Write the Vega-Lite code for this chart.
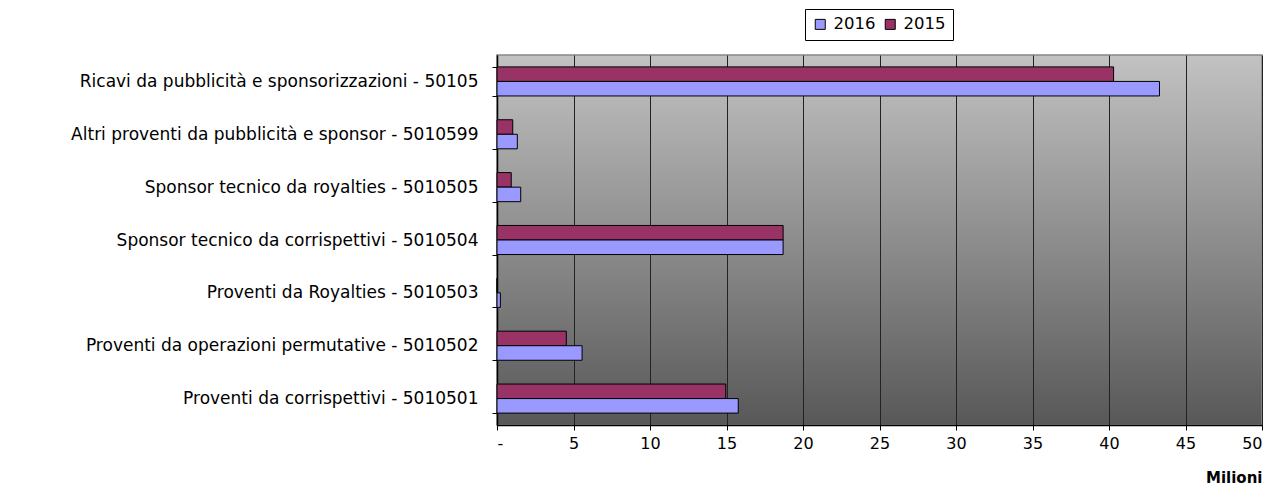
{
  "$schema": "https://vega.github.io/schema/vega-lite/v6.json",
  "width": 765,
  "height": 370,
  "autosize": {"type": "none"},
  "padding": {"left": 497, "top": 55, "right": 23, "bottom": 63},
  "background": "white",
  "config": {
    "font": "DejaVu Sans",
    "view": {
      "stroke": "#888888",
      "strokeWidth": 1.5,
      "fill": {
        "gradient": "linear",
        "x1": 0, "y1": 0, "x2": 0, "y2": 1,
        "stops": [
          {"offset": 0, "color": "#c2c2c2"},
          {"offset": 1, "color": "#585858"}
        ]
      }
    },
    "axis": {
      "labelFont": "DejaVu Sans",
      "labelColor": "#000000",
      "domainColor": "#000000",
      "tickColor": "#000000"
    }
  },
  "data": {
    "values": [
      {"voce": "Ricavi da pubblicità e sponsorizzazioni - 50105", "anno": "2015", "valore": 40.3},
      {"voce": "Ricavi da pubblicità e sponsorizzazioni - 50105", "anno": "2016", "valore": 43.3},
      {"voce": "Altri proventi da pubblicità e sponsor - 5010599", "anno": "2015", "valore": 1.03},
      {"voce": "Altri proventi da pubblicità e sponsor - 5010599", "anno": "2016", "valore": 1.33},
      {"voce": "Sponsor tecnico da royalties - 5010505", "anno": "2015", "valore": 0.93},
      {"voce": "Sponsor tecnico da royalties - 5010505", "anno": "2016", "valore": 1.55},
      {"voce": "Sponsor tecnico da corrispettivi - 5010504", "anno": "2015", "valore": 18.7},
      {"voce": "Sponsor tecnico da corrispettivi - 5010504", "anno": "2016", "valore": 18.7},
      {"voce": "Proventi da Royalties - 5010503", "anno": "2015", "valore": 0},
      {"voce": "Proventi da Royalties - 5010503", "anno": "2016", "valore": 0.22},
      {"voce": "Proventi da operazioni permutative - 5010502", "anno": "2015", "valore": 4.53},
      {"voce": "Proventi da operazioni permutative - 5010502", "anno": "2016", "valore": 5.56},
      {"voce": "Proventi da corrispettivi - 5010501", "anno": "2015", "valore": 14.95},
      {"voce": "Proventi da corrispettivi - 5010501", "anno": "2016", "valore": 15.77}
    ]
  },
  "mark": {"type": "bar", "stroke": "#000000", "strokeWidth": 1},
  "encoding": {
    "y": {
      "field": "voce",
      "type": "nominal",
      "sort": null,
      "scale": {"paddingInner": 0.45, "paddingOuter": 0.225},
      "axis": {
        "title": null,
        "tickBand": "extent",
        "tickSize": 5,
        "labelPadding": 14,
        "labelFontSize": 17,
        "labelLimit": 500,
        "domainWidth": 1.5
      }
    },
    "yOffset": {
      "field": "anno",
      "type": "nominal",
      "sort": ["2015", "2016"],
      "scale": {"paddingInner": 0, "paddingOuter": 0}
    },
    "x": {
      "field": "valore",
      "type": "quantitative",
      "scale": {"domain": [0, 50], "nice": false},
      "axis": {
        "values": [0, 5, 10, 15, 20, 25, 30, 35, 40, 45, 50],
        "labelExpr": "datum.value == 0 ? '-' : datum.label",
        "labelFontSize": 16,
        "labelPadding": 5,
        "tickSize": 5,
        "domainWidth": 1.5,
        "grid": true,
        "gridColor": "#222222",
        "gridWidth": 1,
        "title": "Milioni",
        "titleFont": "DejaVu Sans",
        "titleFontSize": 15,
        "titleFontWeight": "bold",
        "titleColor": "#000000",
        "titleAnchor": "end",
        "titleAlign": "right",
        "titlePadding": 19
      }
    },
    "color": {
      "field": "anno",
      "type": "nominal",
      "sort": ["2016", "2015"],
      "scale": {"domain": ["2016", "2015"], "range": ["#9999ff", "#993366"]},
      "legend": {
        "title": null,
        "orient": "none",
        "legendX": 308,
        "legendY": -46,
        "direction": "horizontal",
        "symbolType": "square",
        "symbolSize": 100,
        "symbolStrokeColor": "#000000",
        "symbolStrokeWidth": 1,
        "labelFontSize": 16.5,
        "labelFont": "DejaVu Sans",
        "labelColor": "#000000",
        "labelOffset": 5,
        "columnPadding": 6,
        "strokeColor": "#000000",
        "padding": 7
      }
    }
  }
}
